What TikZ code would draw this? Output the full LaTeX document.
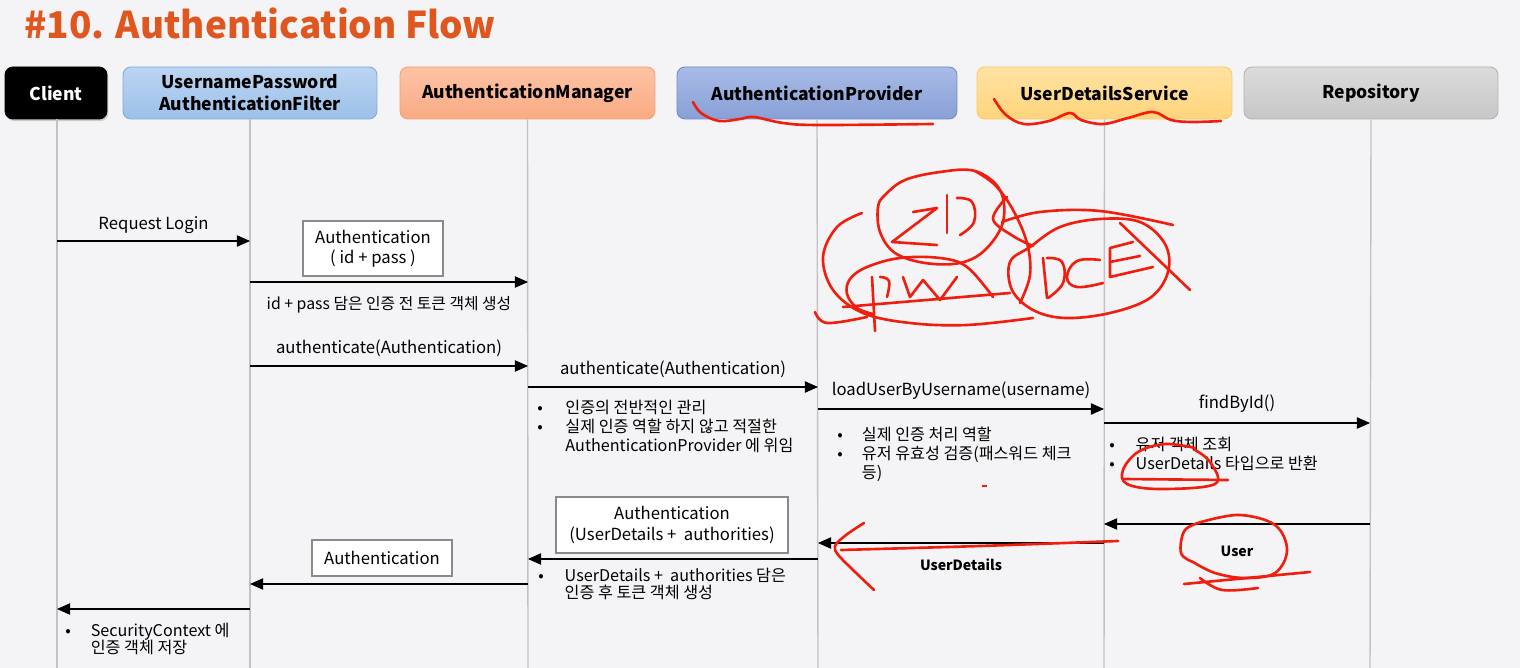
\documentclass[tikz,border=0pt]{standalone}
\usepackage{fontspec}
\setmainfont{Noto Sans CJK KR}
\usetikzlibrary{arrows.meta, shadows}

\definecolor{canvas}{HTML}{F4F4F6}
\definecolor{titleor}{HTML}{E0561F}
\definecolor{lifegray}{HTML}{C2C2C4}
\definecolor{boxgray}{HTML}{8A8A8A}
\definecolor{inkred}{HTML}{F01E0E}
\definecolor{fltTop}{HTML}{BBD5F2}
\definecolor{fltBot}{HTML}{9CC0E9}
\definecolor{fltLine}{HTML}{7FA8DA}
\definecolor{mgrTop}{HTML}{FDC3A5}
\definecolor{mgrBot}{HTML}{F9AB84}
\definecolor{mgrLine}{HTML}{F3A06E}
\definecolor{prvTop}{HTML}{A9BBE7}
\definecolor{prvBot}{HTML}{88A0D7}
\definecolor{prvLine}{HTML}{7189C8}
\definecolor{udsTop}{HTML}{FFE2A2}
\definecolor{udsBot}{HTML}{FFD57C}
\definecolor{udsLine}{HTML}{F6CA66}

\begin{document}
\begin{tikzpicture}[
    x=0.02cm, y=-0.02cm,
    hd/.style={draw, rounded corners=4.5pt, minimum height=1.04cm, inner sep=2pt, align=center,
        font=\fontsize{10}{12.5}\selectfont\bfseries, line width=0.5pt},
    life/.style={draw=lifegray, line width=0.8pt},
    msg/.style={-{Triangle[length=7.5pt,width=6.5pt]}, line width=0.6pt, black},
    lbl/.style={font=\fontsize{9.5}{11}\selectfont, inner sep=2pt},
    tok/.style={draw=boxgray, fill=white, line width=0.8pt, align=center, inner sep=0pt,
        font=\fontsize{9.5}{11.5}\selectfont},
    note/.style={anchor=north west, inner sep=0pt, align=left, font=\fontsize{9.2}{10.8}\selectfont},
    tag/.style={font=\fontsize{8}{9}\selectfont\bfseries},
    ink/.style={draw=inkred, line width=1.5pt, line cap=round, line join=round},
]

% Canvas
\useasboundingbox (0,0) rectangle (1520,668);
\fill[canvas] (0,0) rectangle (1520,668);

% Title
\node[font=\fontsize{21}{25}\selectfont\bfseries, text=titleor, anchor=west, inner sep=0pt] (title) at (24,23) {\#10. Authentication Flow};

% === PARTICIPANTS ===
\node[hd, minimum width=2.04cm, fill=black, text=white, draw=black,
    drop shadow={opacity=0.35, shadow xshift=0.8pt, shadow yshift=-1.2pt}] (cl) at (56,93) {Client};
\node[hd, minimum width=5.08cm, top color=fltTop, bottom color=fltBot, draw=fltLine] (flt) at (250,93) {UsernamePassword\\AuthenticationFilter};
\node[hd, minimum width=5.1cm, top color=mgrTop, bottom color=mgrBot, draw=mgrLine] (mgr) at (527.5,93) {AuthenticationManager};
\node[hd, minimum width=5.6cm, top color=prvTop, bottom color=prvBot, draw=prvLine] (prv) at (817,93) {AuthenticationProvider};
\node[hd, minimum width=5.1cm, top color=udsTop, bottom color=udsBot, draw=udsLine] (uds) at (1104.5,93) {UserDetailsService};
\node[hd, minimum width=5.08cm, top color=black!14, bottom color=black!22, draw=black!30] (repo) at (1371,93) {Repository};

% Lifelines
\coordinate (cl_e) at (57,668);
\coordinate (flt_e) at (250,668);
\coordinate (mgr_e) at (528,668);
\coordinate (prv_e) at (818,668);
\coordinate (uds_e) at (1104,668);
\coordinate (repo_e) at (1370,668);
\draw[life] (57,119) -- (cl_e);
\draw[life] (flt.south) -- (flt_e);
\draw[life] (mgr.south) -- (mgr_e);
\draw[life] (prv.south) -- (prv_e);
\draw[life] (uds.south) -- (uds_e);
\draw[life] (repo.south) -- (repo_e);

% === REQUEST ===
\coordinate (c1) at (57,241);   \coordinate (f1) at (250,241);
\draw[msg] (c1) -- node[lbl, above=2pt] {Request Login} (f1);

\node[tok, minimum width=2.8cm, minimum height=1.1cm] (tok1) at (373,248.5) {Authentication\\( id + pass )};
\coordinate (f2) at (250,282);  \coordinate (m2) at (528,282);
\draw[msg] (f2) -- node[lbl, below=6pt, font=\fontsize{9}{11}\selectfont] {id + pass 담은 인증 전 토큰 객체 생성} (m2);

\coordinate (f3) at (250,366);  \coordinate (m3) at (528,366);
\draw[msg] (f3) -- node[lbl, above=3pt] {authenticate(Authentication)} (m3);

\coordinate (m4) at (528,387);  \coordinate (p4) at (818,387);
\draw[msg] (m4) -- node[lbl, above=3pt] {authenticate(Authentication)} (p4);
\node[note] (mgrnote) at (537,400) {\begin{tabular}{@{}p{16pt}@{}l@{}}
    • & 인증의 전반적인 관리\\
    • & 실제 인증 역할 하지 않고 적절한\\
      & AuthenticationProvider 에 위임
\end{tabular}};

\coordinate (p5) at (818,409);  \coordinate (u5) at (1104,409);
\draw[msg] (p5) -- node[lbl, above=3pt] {loadUserByUsername(username)} (u5);
\node[note] (prvnote) at (837,427) {\begin{tabular}{@{}p{14pt}@{}l@{}}
    • & 실제 인증 처리 역할\\
    • & 유저 유효성 검증(패스워드 체크\\
      & 등)
\end{tabular}};

\coordinate (u6) at (1104,423);  \coordinate (r6) at (1370,423);
\draw[msg] (u6) -- node[lbl, above=4pt] {findById()} (r6);
\node[note] (udsnote) at (1109,437) {\begin{tabular}{@{}p{15pt}@{}l@{}}
    • & 유저 객체 조회\\
    • & UserDetails 타입으로 반환
\end{tabular}};

% === RESPONSE ===
\coordinate (r7) at (1370,524); \coordinate (u7) at (1104,524);
\draw[msg] (r7) -- (u7);
\node[tag] (usertag) at (1237,551) {User};

\coordinate (u8) at (1104,543); \coordinate (p8) at (818,543);
\draw[msg] (u8) -- (p8);
\node[tag] (udtag) at (961,565) {UserDetails};

\node[tok, minimum width=4.64cm, minimum height=1.12cm] (tok2) at (672,525) {Authentication\\(UserDetails +~ authorities)};
\coordinate (p9) at (818,559);  \coordinate (m9) at (528,559);
\draw[msg] (p9) -- (m9);
\node[note] (mgrnote2) at (538,568) {\begin{tabular}{@{}p{15pt}@{}l@{}}
    • & UserDetails +~ authorities 담은\\[-1.5pt]
      & 인증 후 토큰 객체 생성
\end{tabular}};

\node[tok, minimum width=2.8cm, minimum height=0.72cm] (tok3) at (382,558) {Authentication};
\coordinate (m10) at (528,584); \coordinate (f10) at (250,584);
\draw[msg] (m10) -- (f10);

\coordinate (f11) at (250,609); \coordinate (c11) at (57,609);
\draw[msg] (f11) -- (c11);
\node[note] (clnote) at (65,623) {\begin{tabular}{@{}p{14.5pt}@{}l@{}}
    • & SecurityContext 에\\[-1.5pt]
      & 인증 객체 저장
\end{tabular}};

% === RED INK ===
% underlines on the headers
\draw[ink] plot[smooth, tension=0.6] coordinates {(693,102) (701,113) (719,121) (740,119) (754,117) (783,123) (819,125) (933,124)};
\draw[ink] plot[smooth, tension=0.6] coordinates {(994,99) (1006,115) (1024,124) (1049,121) (1070,113) (1081,120) (1103,124) (1128,118) (1153,112) (1171,120) (1192,122) (1221,121)};

% ID / PW / BCE scribble
\draw[ink] plot[smooth cycle, tension=0.6] coordinates {(885,195) (905,180) (940,172) (975,171) (1000,190) (1003,222) (985,250) (960,263) (925,263) (895,253) (880,232) (878,207)};
\draw[ink] plot[smooth, tension=0.6] coordinates {(975,171) (995,185) (1013,210) (1027,243) (1030,275) (1020,303)};
\draw[ink] (913,212) -- (937,208) -- (892,242) -- (937,245);
\draw[ink] (947,195) -- (947,233);
\draw[ink] plot[smooth, tension=0.7] coordinates {(957,198) (972,202) (974,222) (960,235)};
\draw[ink] plot[smooth, tension=0.6] coordinates {(993,297) (967,267) (940,258) (900,258) (867,267) (850,279) (847,294) (857,308) (873,314)};
\draw[ink] (843,307) -- (1010,293);
\draw[ink] (872,277) -- (875,331);
\draw[ink] plot[smooth, tension=0.7] coordinates {(880,277) (889,281) (887,297)};
\draw[ink] (903,277) -- (910,297) -- (923,280) -- (940,300) -- (957,277);
\draw[ink] plot[smooth, tension=0.6] coordinates {(862,213) (837,227) (823,257) (833,290) (863,313) (910,323) (967,325) (1033,318)};
\draw[ink] plot[smooth, tension=0.6] coordinates {(815,312) (827,323) (867,317)};
\draw[ink] plot[smooth cycle, tension=0.6] coordinates {(1030,247) (1060,227) (1100,219) (1140,222) (1165,244) (1168,272) (1150,298) (1110,313) (1065,318) (1033,310) (1012,290) (1010,262)};
\draw[ink] plot[smooth, tension=0.6] coordinates {(1002,222) (1040,212) (1100,211) (1173,225)};
\draw[ink] plot[smooth, tension=0.6] coordinates {(1007,197) (993,219) (1013,236) (1033,246)};
\draw[ink] (1120,223) -- (1190,290);
\draw[ink] (1043,258) -- (1047,298);
\draw[ink] plot[smooth, tension=0.7] coordinates {(1047,258) (1062,262) (1063,283) (1048,298)};
\draw[ink] plot[smooth, tension=0.7] coordinates {(1100,260) (1077,261) (1067,277) (1077,287) (1103,283)};
\draw[ink] (1133,242) -- (1110,248) -- (1110,277) -- (1153,267);
\draw[ink] (1110,262) -- (1140,256);

% circle round UserDetails in the note
\draw[ink] plot[smooth, tension=0.6] coordinates {(1195,448) (1165,444) (1138,452) (1123,470) (1127,484) (1160,489) (1215,484) (1210,462) (1195,450)};
\draw[ink] (1123,479) -- (1228,480);

% red arrow over the UserDetails return
\draw[ink] plot[smooth, tension=0.5] coordinates {(841,550) (980,546) (1118,541)};
\draw[ink] plot[smooth, tension=0.5] coordinates {(864,523) (846,535) (835,546) (840,557) (874,590)};

% circle round User
\draw[ink] plot[smooth, tension=0.6] coordinates {(1205,521) (1240,515) (1275,525) (1287,550) (1275,573) (1245,578) (1215,573) (1193,562)};
\draw[ink] plot[smooth, tension=0.6] coordinates {(1205,521) (1185,530) (1181,553) (1193,562)};
\draw[ink] (1184,584) -- (1310,572);
\draw[ink] plot[smooth, tension=0.6] coordinates {(1200,578) (1222,590) (1258,588)};

% stray mark
\draw[inkred, line width=0.8pt] (982,486) -- (987,486);

\end{tikzpicture}
\end{document}
